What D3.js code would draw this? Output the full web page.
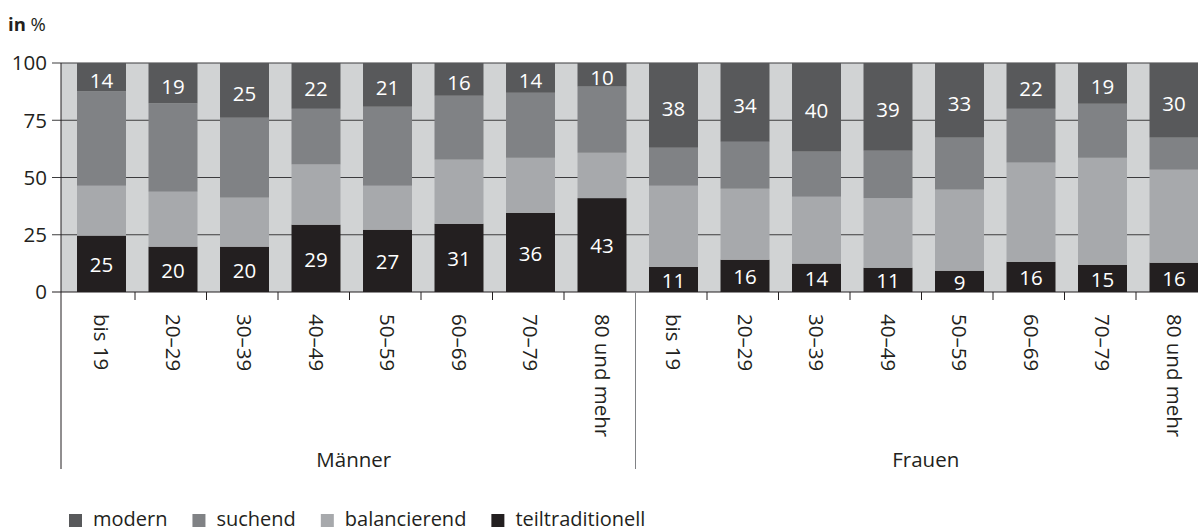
<!DOCTYPE html>
<head>
<meta charset="utf-8">
<title>Rollenbilder nach Alter</title>
<style>
html, body { margin:0; padding:0; overflow:hidden; background-color:#fff; }
svg { display:block; }
text { font-family:'Open Sans', sans-serif; fill:#231f20; }
</style>
</head>
<body>
<svg id="stage" width="1198" height="531"></svg>

<script src="https://d3js.org/d3.v7.min.js"></script>
<script>

// categories
var groups = ["Männer", "Frauen"];
var ages = ["bis 19", "20–29", "30–39", "40–49", "50–59", "60–69", "70–79", "80 und mehr"];
var series = ["modern", "suchend", "balancierend", "teiltraditionell"];

// segment heights in %, Männer then Frauen
var teiltraditionell = [24.6, 19.8, 19.8, 29.4, 27.2, 29.8, 34.6, 41.0,   11.0, 14.1, 12.4, 10.6, 9.3, 13.2, 11.9, 12.8];
var balancierend     = [21.8, 24.0, 21.4, 26.3, 19.2, 28.0, 24.0, 19.8,   35.4, 31.0, 29.2, 30.4, 35.4, 43.3, 46.7, 40.6];
var suchend          = [41.2, 38.6, 34.9, 24.3, 34.5, 27.9, 28.4, 28.9,   16.6, 20.5, 19.7, 20.7, 22.7, 23.5, 23.6, 14.0];
var modern           = [12.4, 17.6, 23.9, 20.0, 19.1, 14.3, 13.0, 10.3,   37.0, 34.4, 38.7, 38.3, 32.6, 20.0, 17.8, 32.6];

// printed numbers
var modernLabels = [14, 19, 25, 22, 21, 16, 14, 10,   38, 34, 40, 39, 33, 22, 19, 30];
var teilLabels   = [25, 20, 20, 29, 27, 31, 36, 43,   11, 16, 14, 11, 9, 16, 15, 16];

var yTicks = [0, 25, 50, 75, 100];

var colors = {
  "modern": "#58595b",
  "suchend": "#808285",
  "balancierend": "#a7a9ac",
  "teiltraditionell": "#231f20"
};

var fs = "20.5px";

var svg = d3.select("#stage"),
    width = +svg.attr("width");

var plotLeft = 61, plotTop = 63, plotBottom = 292;

var keys = [];
groups.forEach(function(g) { ages.forEach(function(a) { keys.push(g + "|" + a); }); });

var rows = keys.map(function(k, i) {
  return { key: k, group: k.split("|")[0], age: k.split("|")[1],
    teiltraditionell: teiltraditionell[i], balancierend: balancierend[i],
    suchend: suchend[i], modern: modern[i],
    modLabel: modernLabels[i], teilLabel: teilLabels[i] };
});

var x = d3.scaleBand()
    .domain(keys)
    .range([63.5, 1207.5])
    .paddingInner(0.315)
    .paddingOuter(0.1575)
    .align(0.6);

var y = d3.scaleLinear()
    .domain([0, 100])
    .range([plotBottom, plotTop]);

var stack = d3.stack().keys(["teiltraditionell", "balancierend", "suchend", "modern"]);
var layers = stack(rows);

// background
svg.append("rect")
    .attr("x", plotLeft).attr("y", y(100))
    .attr("width", width - plotLeft).attr("height", y(0) - y(100))
    .attr("fill", "#d1d3d4");

// grid lines with ticks
svg.selectAll("line.grid")
  .data(yTicks)
  .enter().append("line")
    .attr("class", "grid")
    .attr("x1", plotLeft - 9).attr("x2", width)
    .attr("y1", function(d) { return y(d); })
    .attr("y2", function(d) { return y(d); })
    .attr("stroke", function(d) { return d == 0 ? "#231f20" : "#3c3c3e"; })
    .attr("stroke-width", 1.2);

svg.selectAll("text.ytick")
  .data(yTicks)
  .enter().append("text")
    .attr("class", "ytick")
    .attr("x", 47).attr("y", function(d) { return y(d); })
    .attr("dy", "0.36em")
    .attr("text-anchor", "end")
    .attr("font-size", fs)
    .text(function(d) { return d; });

// bars
svg.selectAll("g.layer")
  .data(layers)
  .enter().append("g")
    .attr("class", "layer")
    .attr("fill", function(d) { return colors[d.key]; })
  .selectAll("rect")
  .data(function(d) { return d; })
  .enter().append("rect")
    .attr("x", function(d) { return x(d.data.key); })
    .attr("y", function(d) { return y(d[1]); })
    .attr("width", x.bandwidth())
    .attr("height", function(d) { return y(d[0]) - y(d[1]); });

var topLayer = layers[3], bottomLayer = layers[0];

svg.selectAll("text.modlab")
  .data(topLayer)
  .enter().append("text")
    .attr("class", "modlab")
    .attr("x", function(d) { return x(d.data.key) + x.bandwidth() / 2; })
    .attr("y", function(d) { return (y(d[0]) + y(d[1])) / 2 + 3; })
    .attr("dy", "0.36em")
    .attr("text-anchor", "middle")
    .attr("font-size", fs)
    .style("fill", "#fff")
    .text(function(d) { return d.data.modLabel; });

svg.selectAll("text.teillab")
  .data(bottomLayer)
  .enter().append("text")
    .attr("class", "teillab")
    .attr("x", function(d) { return x(d.data.key) + x.bandwidth() / 2; })
    .attr("y", function(d) { return (y(d[0]) + y(d[1])) / 2 + 1; })
    .attr("dy", "0.36em")
    .attr("text-anchor", "middle")
    .attr("font-size", fs)
    .style("fill", "#fff")
    .text(function(d) { return d.data.teilLabel; });

// y axis line
svg.append("line")
    .attr("x1", plotLeft).attr("x2", plotLeft)
    .attr("y1", y(100)).attr("y2", 469)
    .attr("stroke", "#231f20").attr("stroke-width", 1);

// x ticks between categories
var bounds = d3.range(1, keys.length).map(function(k) { return 63.5 + k * x.step(); });
svg.selectAll("line.xtick")
  .data(bounds)
  .enter().append("line")
    .attr("class", "xtick")
    .attr("x1", function(d) { return d; }).attr("x2", function(d) { return d; })
    .attr("y1", y(0))
    .attr("y2", function(d, i) { return i == ages.length - 1 ? 469 : y(0) + 8; })
    .attr("stroke", function(d, i) { return i == ages.length - 1 ? "#808285" : "#231f20"; })
    .attr("stroke-width", 1);

// category labels
svg.selectAll("text.cat")
  .data(rows)
  .enter().append("text")
    .attr("class", "cat")
    .attr("transform", function(d) {
      return "translate(" + (x(d.key) + x.bandwidth() / 2) + ",314) rotate(90)";
    })
    .attr("dy", "0.36em")
    .attr("font-size", fs)
    .text(function(d) { return d.age; });

// group labels
svg.selectAll("text.grp")
  .data(groups)
  .enter().append("text")
    .attr("class", "grp")
    .attr("x", function(g) {
      var ks = keys.filter(function(k) { return k.split("|")[0] == g; });
      return (x(ks[0]) + x(ks[ks.length - 1]) + x.bandwidth()) / 2 + 2;
    })
    .attr("y", 467)
    .attr("text-anchor", "middle")
    .attr("font-size", fs)
    .text(function(g) { return g; });

// title
var t = svg.append("text").attr("x", 8).attr("y", 31).attr("font-size", "18.5px");
t.append("tspan").attr("font-weight", "bold").text("in");
t.append("tspan").text(" %");

// legend
var lx = 69;
series.forEach(function(s) {
  svg.append("rect")
      .attr("x", lx).attr("y", 514)
      .attr("width", 13).attr("height", 13)
      .attr("fill", colors[s]);
  var lt = svg.append("text")
      .attr("x", lx + 24).attr("y", 526)
      .attr("font-size", "20px")
      .text(s);
  lx = lx + 24 + lt.node().getComputedTextLength() + 25;
});

</script>
</body>
